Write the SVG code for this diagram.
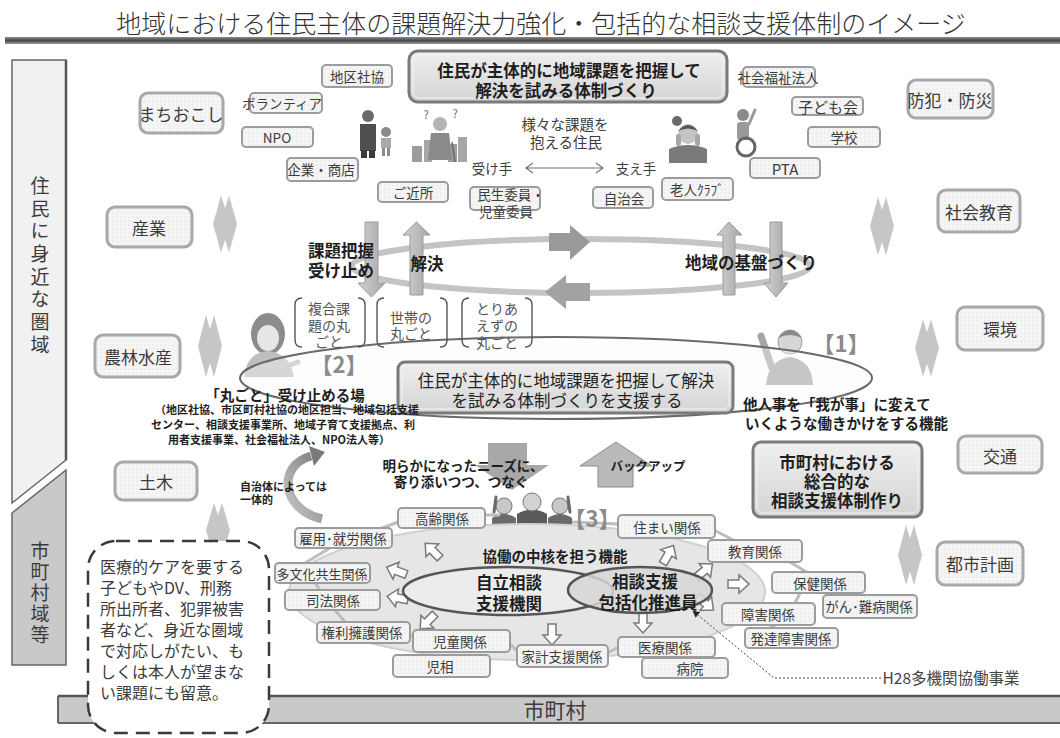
<svg xmlns="http://www.w3.org/2000/svg" width="1060" height="738" viewBox="0 0 1060 738">
<style>
  text { font-family: "Noto Sans CJK JP", "Noto Sans", sans-serif; dominant-baseline: central; text-anchor: middle; fill: #3c3c3c; }
  .b { font-weight: 700; fill: #1e1e1e; }
  .s11 { font-size: 11px; }
  .s13 { font-size: 13.5px; }
  .s14 { font-size: 14.5px; }
  .s16 { font-size: 16.5px; }
  .s17 { font-size: 17px; }
  .vt { font-size: 19px; writing-mode: vertical-rl; }
  .tg { fill: url(#dots); stroke: #9c9c9c; stroke-width: 2; }
  .ct { fill: url(#dots); stroke: #a8a8a8; stroke-width: 3; }
  .hb { fill: url(#boxg); stroke: #7a7a7a; stroke-width: 3; }
  .hbi { fill: none; stroke: #f4f4f4; stroke-width: 1; }
  .dia { fill: #c6c6c6; }
  .va { fill: url(#arrg); stroke: #9a9a9a; stroke-width: 1; }
  .ha { fill: #ffffff; stroke: #7a7a7a; stroke-width: 1.5; }
  .lnk { stroke: #bdbdbd; stroke-width: 3; fill: none; }
  .brk { fill: none; stroke: #555; stroke-width: 1.4; }
  .lt { fill: #555; font-size: 14px; }
</style>
<defs>
  <pattern id="dots" width="4" height="4" patternUnits="userSpaceOnUse">
    <rect width="4" height="4" fill="#f5f5f5"/>
    <circle cx="1" cy="1" r="0.6" fill="#d6d6d6"/>
  </pattern>
  <linearGradient id="boxg" x1="0" y1="0" x2="0" y2="1">
    <stop offset="0" stop-color="#efefef"/>
    <stop offset="1" stop-color="#d4d4d4"/>
  </linearGradient>
  <linearGradient id="barg" x1="0" y1="0" x2="0" y2="1">
    <stop offset="0" stop-color="#8a8a8a"/>
    <stop offset="0.5" stop-color="#4a4a4a"/>
    <stop offset="1" stop-color="#9a9a9a"/>
  </linearGradient>
  <linearGradient id="arrg" x1="0" y1="0" x2="1" y2="0">
    <stop offset="0" stop-color="#d2d2d2"/>
    <stop offset="1" stop-color="#a6a6a6"/>
  </linearGradient>
  <linearGradient id="curg" x1="0" y1="1" x2="1" y2="0">
    <stop offset="0" stop-color="#c8c8c8"/>
    <stop offset="1" stop-color="#7a7a7a"/>
  </linearGradient>
  <marker id="tip" viewBox="0 0 10 10" refX="9" refY="5" markerWidth="7" markerHeight="7" orient="auto">
    <path d="M0,0 L10,5 L0,10 Z" fill="#222"/>
  </marker>
  <path id="dia" d="M-4,-31 L0,-17 L4,-31 L12,0 L4,31 L0,17 L-4,31 L-12,0 Z"/>
  <path id="harr" d="M-10,-4 L1,-4 L1,-9 L11,0 L1,9 L1,4 L-10,4 Z"/>
</defs>

<rect width="1060" height="738" fill="#ffffff"/>

<!-- heading -->
<text x="541" y="22" style="font-size:25px;font-weight:300;fill:#333">地域における住民主体の課題解決力強化・包括的な相談支援体制のイメージ</text>
<rect x="5" y="37" width="1055" height="7" fill="url(#barg)"/>

<!-- area bands on the left and bottom -->
<g id="area-near">
  <polygon points="12,60 66,60 66,460 12,503" fill="#f1f1f1" stroke="#666" stroke-width="1.5"/>
  <line x1="66" y1="60" x2="66" y2="460" stroke="#555" stroke-width="2.5"/>
  <text class="vt" x="40" y="267" style="letter-spacing:3.7px">住民に身近な圏域</text>
</g>
<g id="area-city">
  <polygon points="12,513 66,470 66,665 12,665" fill="#c9c9c9" stroke="#666" stroke-width="1.5"/>
  <text class="vt" x="40" y="594" style="letter-spacing:2px">市町村域等</text>
</g>
<g id="area-municipality">
  <rect x="58" y="696" width="1010" height="27" fill="#c9c9c9"/>
  <line x1="58" y1="696" x2="1060" y2="696" stroke="#555" stroke-width="2.5"/>
  <line x1="58" y1="723" x2="1060" y2="723" stroke="#666" stroke-width="2"/>
  <line x1="58" y1="696" x2="58" y2="723" stroke="#666" stroke-width="2"/>
  <text x="555" y="709" style="font-size:21px">市町村</text>
</g>

<!-- two-way diamond markers between fields -->
<g id="diamonds">
  <use href="#dia" class="dia" transform="translate(225,224) scale(1,0.92)"/>
  <use href="#dia" class="dia" transform="translate(210,346)"/>
  <use href="#dia" class="dia" transform="translate(218,530) scale(1,0.87)"/>
  <use href="#dia" class="dia" transform="translate(882,226) scale(1,0.94)"/>
  <use href="#dia" class="dia" transform="translate(927,348) scale(1,0.92)"/>
  <use href="#dia" class="dia" transform="translate(910,555) scale(1,0.97)"/>
</g>

<!-- field boxes -->
<g id="n-machiokoshi"><rect class="ct" x="140" y="93" width="83" height="40" rx="8"/><text class="s17" x="181" y="113">まちおこし</text></g>
<g id="n-sangyo"><rect class="ct" x="107" y="207" width="85" height="40" rx="8"/><text class="s17" x="149" y="227">産業</text></g>
<g id="n-norin"><rect class="ct" x="95" y="335" width="85" height="42" rx="8"/><text class="s17" x="138" y="356">農林水産</text></g>
<g id="n-doboku"><rect class="ct" x="115" y="462" width="82" height="38" rx="8"/><text class="s17" x="156" y="481">土木</text></g>
<g id="n-bohan"><rect class="ct" x="908" y="80" width="85" height="38" rx="8"/><text class="s17" x="950" y="99">防犯・防災</text></g>
<g id="n-shakaikyoiku"><rect class="ct" x="938" y="190" width="82" height="42" rx="8"/><text class="s17" x="979" y="211">社会教育</text></g>
<g id="n-kankyo"><rect class="ct" x="957" y="307" width="86" height="43" rx="8"/><text class="s17" x="1000" y="328">環境</text></g>
<g id="n-kotsu"><rect class="ct" x="958" y="436" width="84" height="37" rx="8"/><text class="s17" x="1000" y="455">交通</text></g>
<g id="n-toshi"><rect class="ct" x="937" y="542" width="86" height="43" rx="8"/><text class="s17" x="980" y="563">都市計画</text></g>

<!-- headline box -->
<g id="n-headline">
  <rect class="hb" x="409" y="51" width="318" height="51" rx="9"/>
  <rect class="hbi" x="413" y="55" width="310" height="43" rx="6"/>
  <text class="b s16" x="569" y="70">住民が主体的に地域課題を把握して<tspan x="566" dy="20">解決を試みる体制づくり</tspan></text>
</g>

<!-- local actors -->
<g id="n-chikushakyo"><rect class="tg" x="322" y="65" width="70" height="22" rx="4"/><text class="s13" x="357" y="76">地区社協</text></g>
<g id="n-volunteer"><rect class="tg" x="250" y="93" width="72" height="20" rx="4"/><text class="s13" x="282" y="103">ボランティア</text></g>
<g id="n-npo"><rect class="tg" x="242" y="127" width="71" height="20" rx="4"/><text class="s13" x="277" y="137">NPO</text></g>
<g id="n-kigyo"><rect class="tg" x="287" y="158" width="71" height="23" rx="4"/><text class="s13" x="321" y="169">企業・商店</text></g>
<g id="n-kinjo"><rect class="tg" x="378" y="182" width="70" height="20" rx="4"/><text class="s13" x="413" y="192">ご近所</text></g>
<g id="n-minsei"><rect class="tg" x="470" y="187" width="70" height="23" rx="4"/><text class="s13" x="511" y="194">民生委員・<tspan x="506" dy="17">児童委員</tspan></text></g>
<g id="n-jichikai"><rect class="tg" x="593" y="187" width="60" height="21" rx="4"/><text class="s13" x="624" y="198">自治会</text></g>
<g id="n-rojin"><rect class="tg" x="662" y="178" width="71" height="22" rx="4"/><text class="s13" x="697" y="189">老人ｸﾗﾌﾞ</text></g>
<g id="n-fukushihojin"><rect class="tg" x="743" y="67" width="72" height="20" rx="4"/><text class="s13" x="778" y="77">社会福祉法人</text></g>
<g id="n-kodomokai"><rect class="tg" x="792" y="97" width="71" height="18" rx="4"/><text x="828" y="106" style="font-size:15px">子ども会</text></g>
<g id="n-gakko"><rect class="tg" x="808" y="127" width="72" height="20" rx="4"/><text class="s13" x="844" y="137">学校</text></g>
<g id="n-pta"><rect class="tg" x="750" y="158" width="70" height="20" rx="4"/><text x="785" y="168" style="font-size:15px">PTA</text></g>

<!-- residents -->
<g id="n-residents">
  <text class="s14" x="565" y="123">様々な課題を<tspan x="566" dy="18">抱える住民</tspan></text>
  <text class="s13" x="492" y="168">受け手</text>
  <text class="s13" x="636" y="168">支え手</text>
</g>

<!-- figures -->
<g id="fig-family">
  <circle cx="368" cy="116" r="6" fill="#6a6a6a"/>
  <path d="M360,124 h16 v27 h-16 z" fill="#505050"/>
  <rect x="361" y="150" width="6" height="8" fill="#3c3c3c"/>
  <rect x="369" y="150" width="6" height="8" fill="#3c3c3c"/>
  <circle cx="386" cy="132" r="5" fill="#8a8a8a"/>
  <rect x="381" y="138" width="10" height="10" fill="#a8a8a8"/>
  <rect x="382" y="148" width="3" height="8" fill="#8a8a8a"/>
  <rect x="387" y="148" width="3" height="8" fill="#8a8a8a"/>
</g>
<g id="fig-elder">
  <rect x="412" y="146" width="10" height="16" fill="#9c9c9c"/>
  <rect x="424" y="140" width="8" height="22" fill="#a6a6a6"/>
  <rect x="448" y="144" width="9" height="18" fill="#9c9c9c"/>
  <rect x="458" y="137" width="9" height="25" fill="#a6a6a6"/>
  <circle cx="440" cy="124" r="7" fill="#b4b4b4"/>
  <path d="M431,133 h18 l3,27 h-24 z" fill="#8a8a8a"/>
  <line x1="452" y1="142" x2="455" y2="162" stroke="#666" stroke-width="1.5"/>
  <text x="426" y="114" style="font-size:11px;fill:#666">?</text>
  <text x="455" y="113" style="font-size:11px;fill:#666">?</text>
</g>
<g id="fig-worried">
  <circle cx="677" cy="121" r="5" fill="#6a6a6a"/>
  <path d="M669,163 v-14 q19,-8 38,0 v14 z" fill="#7a7a7a"/>
  <circle cx="688" cy="134" r="10" fill="#c4c4c4"/>
  <path d="M678,131 q10,-12 20,0 q-10,-5 -20,0 z" fill="#555"/>
  <rect x="676" y="134" width="5" height="12" rx="2" fill="#a8a8a8"/>
  <rect x="695" y="134" width="5" height="12" rx="2" fill="#a8a8a8"/>
</g>
<g id="fig-wheelchair">
  <circle cx="743" cy="115" r="6" fill="#8a8a8a"/>
  <rect x="737" y="122" width="12" height="18" rx="3" fill="#9a9a9a"/>
  <line x1="749" y1="124" x2="755" y2="110" stroke="#9a9a9a" stroke-width="3" stroke-linecap="round"/>
  <circle cx="746" cy="147" r="9" fill="none" stroke="#666" stroke-width="3"/>
</g>
<g id="fig-woman">
  <ellipse cx="268" cy="334" rx="17" ry="21" fill="#8c8c8c"/>
  <ellipse cx="268" cy="338" rx="11" ry="13" fill="#e6e6e6"/>
  <path d="M244,377 Q246,353 268,351 Q290,353 294,377 Z" fill="#bebebe"/>
  <path d="M282,368 l16,-6" stroke="#bebebe" stroke-width="5" stroke-linecap="round"/>
</g>
<g id="fig-man">
  <path d="M766,385 Q768,360 790,357 Q812,360 813,385 Z" fill="#a6a6a6"/>
  <path d="M772,368 L761,336" stroke="#a6a6a6" stroke-width="7" stroke-linecap="round"/>
  <circle cx="790" cy="342" r="12" fill="#d6d6d6" stroke="#9a9a9a" stroke-width="1"/>
  <path d="M778,338 q12,-16 24,0 q-12,-6 -24,0 z" fill="#8a8a8a"/>
</g>
<g id="fig-team">
  <path d="M492,532 v-14 q12,-8 24,0 v14 z" fill="#6a6a6a"/>
  <path d="M548,532 v-14 q12,-8 24,0 v14 z" fill="#6a6a6a"/>
  <path d="M517,532 v-18 q15,-9 30,0 v18 z" fill="#5a5a5a"/>
  <circle cx="504" cy="506" r="8" fill="#c8c8c8" stroke="#777" stroke-width="1"/>
  <circle cx="560" cy="506" r="8" fill="#c8c8c8" stroke="#777" stroke-width="1"/>
  <circle cx="532" cy="502" r="9" fill="#d2d2d2" stroke="#777" stroke-width="1"/>
  <line x1="494" y1="512" x2="496" y2="497" stroke="#6a6a6a" stroke-width="3" stroke-linecap="round"/>
  <line x1="570" y1="512" x2="568" y2="497" stroke="#6a6a6a" stroke-width="3" stroke-linecap="round"/>
</g>

<!-- connectors -->
<g id="connectors">
  <!-- receiver / supporter arrow -->
  <path d="M526,168 H603 M533,163 L526,168 L533,173 M596,163 L603,168 L596,173" fill="none" stroke="#777" stroke-width="1.2"/>
  <!-- community cycle -->
  <ellipse cx="581" cy="266" rx="229" ry="27" fill="none" stroke="#c4c4c4" stroke-width="6"/>
  <path d="M549,233 H570 V225 L590,242 L570,260 V251 H549 Z" fill="#9a9a9a"/>
  <path d="M590,283 H566 V275 L545,292 L566,309 V301 H590 Z" fill="#a2a2a2"/>
  <path class="va" d="M365,222 H378 V283 H385 L371.5,297 L358,283 H365 Z"/>
  <path class="va" d="M410,295 H423 V235 H430 L416.5,222 L403,235 H410 Z"/>
  <path class="va" d="M723,295 H735 V235 H742 L729,222 L717,235 H723 Z"/>
  <path class="va" d="M770,222 H782 V283 H788 L776,297 L764,283 H770 Z"/>
  <!-- support ring around the residents -->
  <ellipse cx="556" cy="378" rx="316" ry="41" fill="#fafafa" fill-opacity="0.4" stroke="#6a6a6a" stroke-width="2"/>
  <!-- link to municipal level -->
  <path d="M488,443 H527 V465 H549 L512,490 L475,465 H488 Z" fill="#a8a8a8"/>
  <path d="M598,487 V466 H580 L616,442 L652,466 H633 V487 Z" fill="#bababa" stroke="#8a8a8a" stroke-width="1"/>
  <path d="M322,519 C282,510 276,466 311,456" fill="none" stroke="url(#curg)" stroke-width="9"/>
  <polygon points="325,452 309,446 314,466" fill="#7a7a7a"/>
  <!-- collaboration network -->
  <ellipse cx="527" cy="592" rx="238" ry="68" fill="#e6e6e6" stroke="#d0d0d0" stroke-width="2"/>
  <path class="lnk" d="M485,515 H500 M398,522 L380,529 M330,548 L305,563 M315,583 L320,590 M335,610 L345,622 M408,634 L415,638 M510,644 L518,652 M607,653 L619,647 M572,522 L618,524 M714,530 L735,541 M790,562 L808,573 M800,593 L795,603 M770,625 L775,628"/>
  <use href="#harr" class="ha" transform="translate(433,551) rotate(-135)"/>
  <use href="#harr" class="ha" transform="translate(397,571) rotate(-160)"/>
  <use href="#harr" class="ha" transform="translate(398,598) rotate(190)"/>
  <use href="#harr" class="ha" transform="translate(428,621) rotate(135)"/>
  <use href="#harr" class="ha" transform="translate(552,634) rotate(90)"/>
  <use href="#harr" class="ha" transform="translate(643,622) rotate(90)"/>
  <use href="#harr" class="ha" transform="translate(668,555) rotate(-60)"/>
  <use href="#harr" class="ha" transform="translate(704,571) rotate(-40)"/>
  <use href="#harr" class="ha" transform="translate(705,603) rotate(40)"/>
  <use href="#harr" class="ha" transform="translate(738,584)"/>
</g>

<!-- cycle labels -->
<g id="n-cycle-labels">
  <text class="b s16" x="341" y="250">課題把握<tspan x="341" dy="20">受け止め</tspan></text>
  <text class="b s16" x="427" y="263">解決</text>
  <text class="b s16" x="751" y="262">地域の基盤づくり</text>
</g>

<!-- whole-household brackets -->
<g id="n-marugoto">
  <path class="brk" d="M302,298 Q295,298 295,305 V340 Q295,347 302,347"/>
  <path class="brk" d="M358,298 Q365,298 365,305 V340 Q365,347 358,347"/>
  <text class="lt" x="329" y="308">複合課<tspan x="329" dy="17">題の丸</tspan><tspan x="329" dy="16">ごと</tspan></text>
  <path class="brk" d="M384,298 Q377,298 377,305 V340 Q377,347 384,347"/>
  <path class="brk" d="M440,298 Q447,298 447,305 V340 Q447,347 440,347"/>
  <text class="lt" x="411" y="317">世帯の<tspan x="411" dy="16">丸ごと</tspan></text>
  <path class="brk" d="M469,298 Q462,298 462,305 V340 Q462,347 469,347"/>
  <path class="brk" d="M525,298 Q532,298 532,305 V340 Q532,347 525,347"/>
  <text class="lt" x="497" y="308">とりあ<tspan x="497" dy="17">えずの</tspan><tspan x="497" dy="17">丸ごと</tspan></text>
</g>

<!-- support box -->
<g id="n-support">
  <rect class="hb" x="398" y="362" width="335" height="51" rx="7"/>
  <rect class="hbi" x="402" y="366" width="327" height="43" rx="5"/>
  <text class="s16" x="566" y="380" style="fill:#222">住民が主体的に地域課題を把握して解決<tspan x="567" dy="20">を試みる体制づくりを支援する</tspan></text>
</g>

<!-- function [2] -->
<g id="n-func2">
  <text x="339" y="363" style="font-size:22px;font-weight:700;fill:#8a8a8a">【2】</text>
  <text class="b" x="285" y="394" style="font-size:14.5px">「丸ごと」受け止める場</text>
  <text class="b s11" x="287" y="409">（地区社協、市区町村社協の地区担当、地域包括支援<tspan x="283" dy="15">センター、相談支援事業所、地域子育て支援拠点、利</tspan><tspan x="279" dy="15">用者支援事業、社会福祉法人、NPO法人等）</tspan></text>
</g>

<!-- function [1] -->
<g id="n-func1">
  <text x="841" y="342" style="font-size:22px;font-weight:700;fill:#8a8a8a">【1】</text>
  <text class="b" x="743" y="403" style="font-size:14.5px;text-anchor:start">他人事を「我が事」に変えて<tspan x="745" dy="19">いくような働きかけをする機能</tspan></text>
</g>

<!-- municipal box -->
<g id="n-municipal">
  <rect class="hb" x="753" y="442" width="169" height="75" rx="8"/>
  <rect class="hbi" x="757" y="446" width="161" height="67" rx="6"/>
  <text class="b s16" x="837" y="462">市町村における<tspan x="837" dy="19">総合的な</tspan><tspan x="837" dy="19">相談支援体制作り</tspan></text>
</g>

<!-- arrow labels -->
<g id="n-link-labels">
  <text class="b" x="463" y="465" style="font-size:13.5px">明らかになったニーズに、<tspan x="461" dy="16">寄り添いつつ、つなぐ</tspan></text>
  <text class="b" x="648" y="465" style="font-size:12.5px">バックアップ</text>
  <text class="b s11" x="240" y="486" style="text-anchor:start">自治体によっては<tspan x="240" dy="13">一体的</tspan></text>
</g>

<!-- function [3] -->
<g id="n-func3">
  <text x="592" y="517" style="font-size:22px;font-weight:700;fill:#8a8a8a">【3】</text>
  <text class="b" x="555" y="555" style="font-size:14.5px">協働の中核を担う機能</text>
</g>

<!-- core agencies -->
<g id="n-jiritsu">
  <ellipse cx="508" cy="591" rx="105" ry="24" fill="#ececec" stroke="#555" stroke-width="2.5"/>
  <text class="b" x="509" y="582" style="font-size:16.5px">自立相談<tspan x="509" dy="21">支援機関</tspan></text>
</g>
<g id="n-suishin">
  <ellipse cx="640" cy="590" rx="72" ry="23" fill="#d6d6d6" fill-opacity="0.85" stroke="#555" stroke-width="2.5"/>
  <text class="b" x="645" y="581" style="font-size:16.5px">相談支援<tspan x="648" dy="21">包括化推進員</tspan></text>
</g>

<!-- related sectors -->
<g id="n-korei"><rect class="tg" x="398" y="508" width="87" height="20" rx="4"/><text class="s13" x="442" y="518">高齢関係</text></g>
<g id="n-koyo"><rect class="tg" x="295" y="528" width="97" height="20" rx="4"/><text class="s13" x="343" y="538">雇用･就労関係</text></g>
<g id="n-tabunka"><rect class="tg" x="275" y="563" width="95" height="20" rx="4"/><text x="322" y="573" style="font-size:13px">多文化共生関係</text></g>
<g id="n-shiho"><rect class="tg" x="285" y="590" width="95" height="20" rx="4"/><text class="s13" x="333" y="600">司法関係</text></g>
<g id="n-kenri"><rect class="tg" x="317" y="622" width="93" height="21" rx="4"/><text class="s13" x="362" y="632">権利擁護関係</text></g>
<g id="n-jido"><rect class="tg" x="413" y="630" width="97" height="22" rx="4"/><text class="s13" x="460" y="641">児童関係</text></g>
<g id="n-jiso"><rect class="tg" x="393" y="655" width="97" height="22" rx="4"/><text class="s13" x="440" y="666">児相</text></g>
<g id="n-kakei"><rect class="tg" x="517" y="645" width="91" height="22" rx="4"/><text class="s13" x="562" y="656">家計支援関係</text></g>
<g id="n-iryo"><rect class="tg" x="618" y="637" width="97" height="20" rx="4"/><text class="s13" x="665" y="647">医療関係</text></g>
<g id="n-byoin"><rect class="tg" x="642" y="658" width="86" height="20" rx="4"/><text class="s13" x="690" y="668">病院</text></g>
<g id="n-sumai"><rect class="tg" x="618" y="515" width="97" height="23" rx="4"/><text class="s13" x="667" y="527">住まい関係</text></g>
<g id="n-kyoiku"><rect class="tg" x="708" y="540" width="94" height="22" rx="4"/><text class="s13" x="755" y="551">教育関係</text></g>
<g id="n-hoken"><rect class="tg" x="772" y="572" width="93" height="21" rx="4"/><text class="s13" x="820" y="583">保健関係</text></g>
<g id="n-nanbyo"><rect class="tg" x="823" y="595" width="94" height="23" rx="4"/><text class="s13" x="869" y="606">がん･難病関係</text></g>
<g id="n-shogai"><rect class="tg" x="722" y="603" width="93" height="22" rx="4"/><text class="s13" x="768" y="614">障害関係</text></g>
<g id="n-hattatsu"><rect class="tg" x="745" y="628" width="93" height="20" rx="4"/><text class="s13" x="791" y="638">発達障害関係</text></g>

<!-- multi-agency project note -->
<g id="n-h28">
  <path d="M881,678 H774 L693,611" fill="none" stroke="#444" stroke-width="1" stroke-dasharray="2 2" marker-end="url(#tip)"/>
  <text x="951" y="677" style="font-size:15.5px;fill:#444">H28多機関協働事業</text>
</g>

<!-- caution note -->
<g id="n-note">
  <rect x="88" y="541" width="181" height="192" rx="28" fill="#ffffff" stroke="#3a3a3a" stroke-width="2.5" stroke-dasharray="14 8"/>
  <text x="100" y="566" style="font-size:16px;text-anchor:start">医療的ケアを要する<tspan x="100" dy="21">子どもやDV、刑務</tspan><tspan x="100" dy="21">所出所者、犯罪被害</tspan><tspan x="100" dy="21">者など、身近な圏域</tspan><tspan x="100" dy="21">で対応しがたい、も</tspan><tspan x="100" dy="21">しくは本人が望まな</tspan><tspan x="100" dy="21">い課題にも留意。</tspan></text>
</g>
</svg>
